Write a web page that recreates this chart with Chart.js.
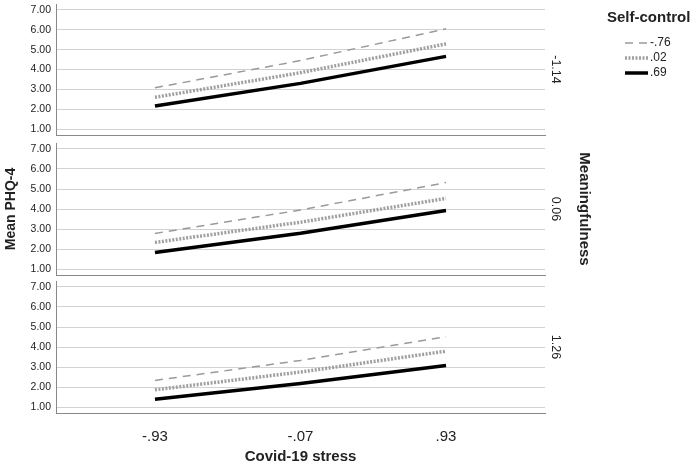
<!DOCTYPE html>
<html>
<head>
  <meta charset="utf-8">
  <title>Mean PHQ-4 by Covid-19 stress</title>
  <style>
    body { margin: 0; background: #fff; }
    canvas { position: absolute; left: 0; }
  </style>
</head>
<body>
<script src="https://cdn.jsdelivr.net/npm/chart.js@4.4.1/dist/chart.umd.min.js"></script>
<canvas id="panel1" width="694" height="140" style="top:0px"></canvas>
<canvas id="panel2" width="694" height="138" style="top:140px"></canvas>
<canvas id="panel3" width="694" height="191" style="top:278px"></canvas>
<script>
  // x categories (Covid-19 stress), legend groups (Self-control), panels (Meaningfulness)
  var stressLabels = ['-.93', '-.07', '.93'];
  var controlLabels = ['-.76', '.02', '.69'];
  var panelLabels = ['-1.14', '0.06', '1.26'];
  var yTicks = [1, 2, 3, 4, 5, 6, 7];

  // Mean PHQ-4, one array per panel / self-control level
  var p1Low = [3.08, 4.45, 6.05];
  var p1Mid = [2.60, 3.84, 5.29];
  var p1High = [2.16, 3.30, 4.66];

  var p2Low = [2.78, 3.95, 5.32];
  var p2Mid = [2.33, 3.34, 4.53];
  var p2High = [1.83, 2.79, 3.92];

  var p3Low = [2.33, 3.33, 4.51];
  var p3Mid = [1.86, 2.75, 3.79];
  var p3High = [1.39, 2.17, 3.08];

  var FONT = "'Liberation Sans', Arial, sans-serif";
  Chart.defaults.font.family = FONT;
  Chart.defaults.color = '#222';

  var lineStyles = [
    {borderColor: '#9a9a9a', borderWidth: 1.5, borderDash: [8, 6]},
    {borderColor: '#a0a0a0', borderWidth: 3.5, borderDash: [2, 1.5]},
    {borderColor: '#000000', borderWidth: 3.5, borderDash: []}
  ];

  function makeDatasets(series) {
    return series.map(function(vals, i) {
      return {
        label: controlLabels[i],
        data: vals.map(function(v, k) { return {x: k, y: v}; }),
        borderColor: lineStyles[i].borderColor,
        borderWidth: lineStyles[i].borderWidth,
        borderDash: lineStyles[i].borderDash,
        pointRadius: 0,
        tension: 0,
        fill: false,
        xAxisID: 'x',
        yAxisID: 'y'
      };
    });
  }

  // legend drawn top right, only on the first panel
  var legendPlugin = {
    id: 'sideLegend',
    afterDraw: function(chart) {
      var ctx = chart.ctx;
      ctx.save();
      ctx.fillStyle = '#222';
      ctx.textBaseline = 'middle';
      ctx.textAlign = 'left';
      ctx.font = 'bold 15px ' + FONT;
      ctx.fillText('Self-control', 607, 18);
      ctx.font = '12px ' + FONT;
      chart.data.datasets.forEach(function(ds, i) {
        var y = 43 + i * 15;
        ctx.beginPath();
        ctx.setLineDash(ds.borderDash || []);
        ctx.lineWidth = ds.borderWidth;
        ctx.strokeStyle = ds.borderColor;
        ctx.moveTo(625, y);
        ctx.lineTo(648, y);
        ctx.stroke();
        ctx.setLineDash([]);
        ctx.fillText(ds.label, 650, y);
      });
      ctx.restore();
    }
  };

  function createPanel(canvas, idx, series, opts) {
    var scales = {
      x: {
        type: 'linear',
        min: -0.68,
        max: 2.68,
        grid: {display: false},
        border: {display: true, color: '#888', width: 1},
        ticks: {
          display: opts.showX,
          padding: 7,
          font: {size: 15},
          color: '#222',
          callback: function(v) { return stressLabels[v]; }
        },
        title: {
          display: opts.showX,
          text: 'Covid-19 stress',
          font: {size: 15, weight: 'bold'},
          padding: {top: 0, bottom: 3}
        },
        afterBuildTicks: function(s) {
          s.ticks = stressLabels.map(function(l, k) { return {value: k}; });
        },
        afterFit: function(s) {
          s.height = opts.showX ? 56 : 0;
          s.paddingLeft = 0; s.paddingRight = 0;
        }
      },
      y: {
        type: 'linear',
        position: 'left',
        min: 0.7,
        max: 7.3,
        grid: {color: '#d2d2d2', lineWidth: 1, drawTicks: false},
        border: {display: true, color: '#888', width: 1},
        ticks: {
          padding: 5,
          font: {size: 10.5},
          color: '#222',
          callback: function(v) { return v.toFixed(2); }
        },
        title: {
          display: opts.showYTitle,
          text: 'Mean PHQ-4',
          font: {size: 14, weight: 'bold'},
          padding: {top: 3, bottom: 0}
        },
        afterBuildTicks: function(s) {
          s.ticks = yTicks.map(function(v) { return {value: v}; });
        },
        afterFit: function(s) {
          s.width = 56;
          s.paddingTop = 0; s.paddingBottom = 0;
        }
      },
      panel: {
        type: 'linear',
        position: 'right',
        weight: 1,
        grid: {display: false},
        border: {display: false},
        ticks: {display: false},
        title: {
          display: true,
          text: panelLabels[idx],
          font: {size: 12.5},
          color: '#222',
          padding: {top: 2, bottom: 0}
        },
        afterFit: function(s) {
          s.width = 20;
          s.paddingTop = 0; s.paddingBottom = 0;
        }
      }
    };
    var rightPad = 129;
    if (opts.showFacetTitle) {
      scales.facet = {
        type: 'linear',
        position: 'right',
        weight: 2,
        grid: {display: false},
        border: {display: false},
        ticks: {display: false},
        title: {
          display: true,
          text: 'Meaningfulness',
          font: {size: 15, weight: 'bold'},
          color: '#222',
          padding: {top: 0, bottom: 0}
        },
        afterFit: function(s) {
          s.width = 28;
          s.paddingTop = 0; s.paddingBottom = 0;
        }
      };
      rightPad = 101;
    }

    return new Chart(document.getElementById(canvas), {
      type: 'line',
      data: {datasets: makeDatasets(series)},
      options: {
        responsive: false,
        animation: false,
        layout: {padding: {left: 0, right: rightPad, top: opts.padTop, bottom: opts.padBottom}},
        plugins: {legend: {display: false}, tooltip: {enabled: false}},
        scales: scales
      },
      plugins: opts.legend ? [legendPlugin] : []
    });
  }

  createPanel('panel1', 0, [p1Low, p1Mid, p1High],
    {showX: false, showYTitle: false, showFacetTitle: false, legend: true, padTop: 4, padBottom: 5});
  createPanel('panel2', 1, [p2Low, p2Mid, p2High],
    {showX: false, showYTitle: true, showFacetTitle: true, legend: false, padTop: 3, padBottom: 3});
  createPanel('panel3', 2, [p3Low, p3Mid, p3High],
    {showX: true, showYTitle: false, showFacetTitle: false, legend: false, padTop: 3, padBottom: 0});
</script>
</body>
</html>
